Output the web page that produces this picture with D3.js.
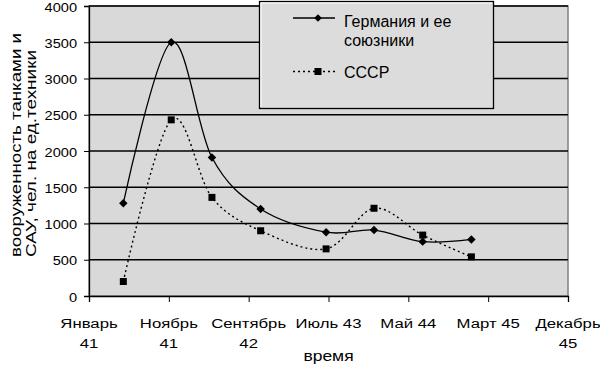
<!DOCTYPE html>
<html><head><meta charset="utf-8">
<script src="https://cdn.jsdelivr.net/npm/d3@7"></script>
<style>body{margin:0;background:#fff}svg{display:block;font-family:"Liberation Sans",Arial,sans-serif}</style>
</head><body><svg id="c" width="600" height="367"></svg>
<script>
// months since January 1941
const months = [4.3, 10.3, 15.4, 21.5, 29.7, 35.7, 41.8, 47.9];
const germany = [1280, 3500, 1910, 1200, 880, 910, 750, 780];
const ussr = [200, 2430, 1360, 900, 650, 1210, 840, 540];
const tickMonths = [0, 10, 20, 30, 40, 50, 60];
const tickLabels = [["Январь","41"],["Ноябрь","41"],["Сентябрь","42"],["Июль 43"],["Май 44"],["Март 45"],["Декабрь","45"]];
const yTicks = [0, 500, 1000, 1500, 2000, 2500, 3000, 3500, 4000];
const seriesNames = ["Германия и ее союзники", "СССР"];

const svg = d3.select("#c");
const L = 89, R = 568, T = 6, B = 296;
const x = d3.scaleLinear().domain([0, 60]).range([L, R]);
const y = d3.scaleLinear().domain([0, 4000]).range([B, T]);

svg.append("rect").attr("x", L).attr("y", T).attr("width", R - L).attr("height", B - T)
  .attr("fill", "#d9d9d9").attr("stroke", "#808080").attr("stroke-width", 1.5);

// gridlines
svg.append("g").selectAll("line").data(yTicks.slice(1)).join("line")
  .attr("x1", L).attr("x2", R).attr("y1", d => y(d)).attr("y2", d => y(d))
  .attr("stroke", "#000").attr("stroke-width", 1.6);

// y axis
const ya = svg.append("g").attr("transform", `translate(${L},0)`)
  .call(d3.axisLeft(y).tickValues(yTicks).tickSize(5).tickFormat(""));
ya.select(".domain").attr("stroke", "#000").attr("stroke-width", 1.3);
ya.selectAll(".tick text").remove();
svg.append("g").attr("font-size", 12.8).attr("text-anchor", "end").attr("fill", "#000")
  .selectAll("text").data(yTicks).join("text")
  .attr("transform", d => `translate(77,${y(d) + 5.7}) scale(1.14,1)`)
  .text(d3.format("d"));

// x axis
const xa = svg.append("g").attr("transform", `translate(0,${B})`)
  .call(d3.axisBottom(x).tickValues(tickMonths).tickSize(6).tickFormat(""));
xa.select(".domain").attr("stroke", "#000").attr("stroke-width", 1.3);
xa.selectAll(".tick text").remove();
const lab = svg.append("g").attr("font-size", 13.5).attr("text-anchor", "middle").attr("fill", "#000");
tickMonths.forEach((m, i) => {
  tickLabels[i].forEach((s, j) => lab.append("text")
    .attr("transform", `translate(${x(m)},${328 + j * 20}) scale(1.24,1)`).text(s));
});
svg.append("text").attr("transform", `translate(${(L + R) / 2},361) scale(1.25,1)`)
  .attr("text-anchor", "middle").attr("font-size", 14).text("время");

// y title
const ytg = svg.append("g").attr("font-size", 14).attr("fill", "#000");
ytg.append("text").attr("transform", "translate(21,257) rotate(-90)")
  .attr("textLength", 224).attr("lengthAdjust", "spacingAndGlyphs").text("вооруженность танками и");
ytg.append("text").attr("transform", "translate(36,257) rotate(-90)")
  .attr("textLength", 207).attr("lengthAdjust", "spacingAndGlyphs").text("САУ, чел. на ед.техники");

const line = d3.line().x((d, i) => x(months[i])).y(d => y(d)).curve(d3.curveCatmullRom.alpha(0));

svg.append("path").datum(ussr).attr("d", line).attr("fill", "none")
  .attr("stroke", "#000").attr("stroke-width", 1.4).attr("stroke-dasharray", "2,3");
svg.append("path").datum(germany).attr("d", line).attr("fill", "none")
  .attr("stroke", "#000").attr("stroke-width", 1.3);

svg.append("g").selectAll("path").data(germany).join("path")
  .attr("d", d3.symbol().type(d3.symbolSquare).size(36))
  .attr("transform", (d, i) => `translate(${x(months[i])},${y(d)}) rotate(45)`)
  .attr("fill", "#000");
svg.append("g").selectAll("rect").data(ussr).join("rect")
  .attr("x", (d, i) => x(months[i]) - 3.5).attr("y", d => y(d) - 3.5)
  .attr("width", 7).attr("height", 7).attr("fill", "#000");

// legend
const lg = svg.append("g");
lg.append("rect").attr("x", 259.5).attr("y", 1.5).attr("width", 234).attr("height", 107)
  .attr("fill", "#dcdcdc").attr("stroke", "#000").attr("stroke-width", 1.3);
lg.append("path").attr("d", "M261,107 V3 H492").attr("fill", "none").attr("stroke", "#fff").attr("stroke-width", 1);
lg.append("line").attr("x1", 293).attr("x2", 335).attr("y1", 18).attr("y2", 18).attr("stroke", "#000").attr("stroke-width", 1.3);
lg.append("path").attr("d", d3.symbol().type(d3.symbolSquare).size(30)).attr("transform", "translate(318,18) rotate(45)");
lg.append("line").attr("x1", 293).attr("x2", 335).attr("y1", 71.5).attr("y2", 71.5).attr("stroke", "#000").attr("stroke-width", 1.4).attr("stroke-dasharray", "2,3");
lg.append("rect").attr("x", 314.5).attr("y", 68).attr("width", 7).attr("height", 7);
const lt = lg.append("g").attr("font-size", 16).attr("fill", "#000");
lt.append("text").attr("x", 344).attr("y", 27).text("Германия и ее");
lt.append("text").attr("x", 344).attr("y", 46).text("союзники");
lt.append("text").attr("x", 344).attr("y", 78).text(seriesNames[1]);
</script></body></html>
